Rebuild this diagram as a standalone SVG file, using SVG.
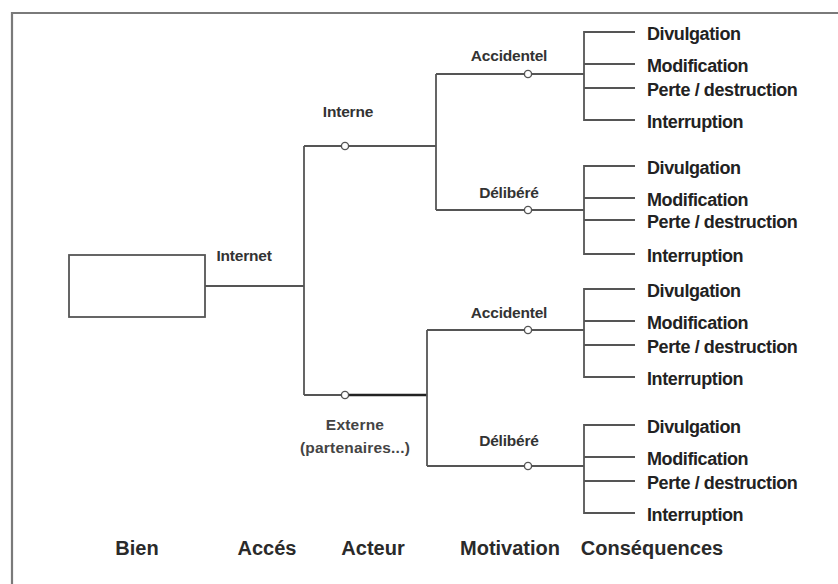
<svg xmlns="http://www.w3.org/2000/svg" width="838" height="584" viewBox="0 0 838 584">
  <style>
    .frame { fill: none; stroke: #7a7a7a; stroke-width: 2.2; }
    .wire { fill: none; stroke: #555555; stroke-width: 1.8; }
    .wire-bold { fill: none; stroke: #222222; stroke-width: 2.6; }
    .box { fill: #ffffff; stroke: #555555; stroke-width: 1.8; }
    .dot { fill: #ffffff; stroke: #555555; stroke-width: 1.4; }
    .lbl { font-family: "Liberation Sans", Arial, sans-serif; font-weight: bold; font-size: 15.5px; fill: #333333; letter-spacing: -0.2px; text-anchor: middle; }
    .lbl-ext { font-family: "Liberation Sans", Arial, sans-serif; font-weight: bold; font-size: 15.5px; fill: #444444; letter-spacing: 0.2px; text-anchor: middle; }
    .cons { font-family: "Liberation Sans", Arial, sans-serif; font-weight: bold; font-size: 18px; fill: #222222; letter-spacing: -0.4px; }
    .col { font-family: "Liberation Sans", Arial, sans-serif; font-weight: bold; font-size: 20px; fill: #2a2a2a; text-anchor: middle; }
  </style>
  <rect width="838" height="584" fill="#ffffff"/>

  <!-- outer frame (top and left edges) -->
  <path class="frame" d="M12,586 V13 H840"/>

  <!-- connectors -->
  <g id="connectors">
    <!-- Bien -> Internet -->
    <path class="wire" d="M205,286 H304"/>
    <path class="wire" d="M304,146 V395"/>
    <!-- Interne -->
    <path class="wire" d="M304,146 H436"/>
    <path class="wire" d="M436,74 V210"/>
    <!-- Externe -->
    <path class="wire" d="M304,395 H345"/>
    <path class="wire-bold" d="M345,395 H427"/>
    <path class="wire" d="M427,330 V466"/>
    <!-- motivations -->
    <path class="wire" d="M436,74 H584"/>
    <path class="wire" d="M436,210 H584"/>
    <path class="wire" d="M427,330 H584"/>
    <path class="wire" d="M427,466 H584"/>
    <!-- consequences: Interne / Accidentel -->
    <path class="wire" d="M635,32 H584 V120 H635 M584,64 H635 M584,88 H635"/>
    <!-- consequences: Interne / Délibéré -->
    <path class="wire" d="M635,166 H584 V254 H635 M584,198 H635 M584,220 H635"/>
    <!-- consequences: Externe / Accidentel -->
    <path class="wire" d="M635,289 H584 V377 H635 M584,321 H635 M584,345 H635"/>
    <!-- consequences: Externe / Délibéré -->
    <path class="wire" d="M635,425 H584 V513 H635 M584,457 H635 M584,481 H635"/>
  </g>

  <!-- asset -->
  <g id="bien">
    <rect class="box" x="69" y="255" width="136" height="62"/>
  </g>

  <g id="acces-internet">
    <text class="lbl" x="244" y="261">Internet</text>
  </g>

  <g id="acteur-interne">
    <circle class="dot" cx="345" cy="146" r="3.6"/>
    <text class="lbl" x="348" y="117">Interne</text>
  </g>

  <g id="acteur-externe">
    <circle class="dot" cx="345" cy="395" r="3.6"/>
    <text class="lbl-ext" x="355" y="430">Externe</text>
    <text class="lbl-ext" x="355" y="453">(partenaires...)</text>
  </g>

  <g id="interne-accidentel">
    <circle class="dot" cx="528" cy="74" r="3.6"/>
    <text class="lbl" x="509" y="61">Accidentel</text>
  </g>

  <g id="interne-delibere">
    <circle class="dot" cx="528" cy="210" r="3.6"/>
    <text class="lbl" x="509" y="198">Délibéré</text>
  </g>

  <g id="externe-accidentel">
    <circle class="dot" cx="528" cy="330" r="3.6"/>
    <text class="lbl" x="509" y="318">Accidentel</text>
  </g>

  <g id="externe-delibere">
    <circle class="dot" cx="528" cy="466" r="3.6"/>
    <text class="lbl" x="509" y="446">Délibéré</text>
  </g>

  <g id="consequences-1">
    <text class="cons" x="647" y="40">Divulgation</text>
    <text class="cons" x="647" y="72">Modification</text>
    <text class="cons" x="647" y="96">Perte / destruction</text>
    <text class="cons" x="647" y="128">Interruption</text>
  </g>

  <g id="consequences-2">
    <text class="cons" x="647" y="174">Divulgation</text>
    <text class="cons" x="647" y="206">Modification</text>
    <text class="cons" x="647" y="228">Perte / destruction</text>
    <text class="cons" x="647" y="262">Interruption</text>
  </g>

  <g id="consequences-3">
    <text class="cons" x="647" y="297">Divulgation</text>
    <text class="cons" x="647" y="329">Modification</text>
    <text class="cons" x="647" y="353">Perte / destruction</text>
    <text class="cons" x="647" y="385">Interruption</text>
  </g>

  <g id="consequences-4">
    <text class="cons" x="647" y="433">Divulgation</text>
    <text class="cons" x="647" y="465">Modification</text>
    <text class="cons" x="647" y="489">Perte / destruction</text>
    <text class="cons" x="647" y="521">Interruption</text>
  </g>

  <!-- column headings -->
  <g id="columns">
    <text class="col" x="137" y="555">Bien</text>
    <text class="col" x="267" y="555">Accés</text>
    <text class="col" x="373" y="555">Acteur</text>
    <text class="col" x="510" y="555">Motivation</text>
    <text class="col" x="652" y="555">Conséquences</text>
  </g>
</svg>
